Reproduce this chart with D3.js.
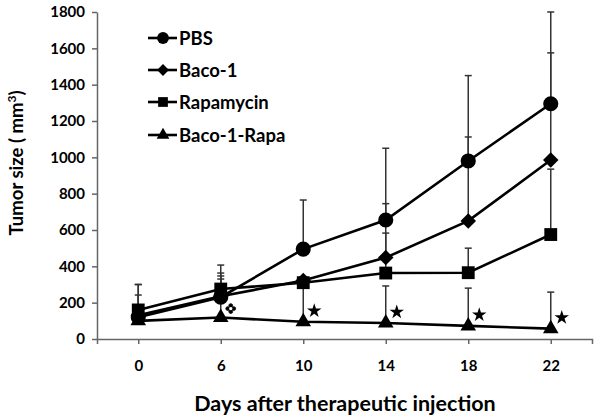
<!DOCTYPE html>
<html>
<head>
<meta charset="utf-8">
<script src="https://cdn.jsdelivr.net/npm/d3@7"></script>
<style>
  html, body { margin: 0; padding: 0; background: #fff; }
  svg { display: block; font-family: Lato, "Open Sans", sans-serif; }
</style>
</head>
<body>
<svg id="chart" width="600" height="419"></svg>
<script>
const days = ["0", "6", "10", "14", "18", "22"];
const yTicks = [0, 200, 400, 600, 800, 1000, 1200, 1400, 1600, 1800];

const seriesNames = ["PBS", "Baco-1", "Rapamycin", "Baco-1-Rapa"];
const pbs        = [120, 230, 495, 655, 980, 1295];
const baco1      = [130, 235, 322, 448, 650, 985];
const rapamycin  = [160, 275, 310, 363, 365, 575];
const bacoRapa   = [100, 118, 95, 88, 72, 57];

// upper error bar lengths
const pbsErr       = [180, 177, 270, 395, 470, 505];
const baco1Err     = [50, 128, 20, 297, 462, 590];
const rapamycinErr = [82, 72, 20, 220, 135, 360];
const bacoRapaErr  = [200, 212, 200, 204, 208, 201];

// significance marks
const starDays = ["10", "14", "18", "22"];
const cloverDays = ["6"];

// wide diamond symbol (square rotated 45deg)
const wideDiamond = {
  draw(ctx, size) {
    const r = Math.sqrt(size / 2);
    ctx.moveTo(0, -r); ctx.lineTo(r, 0); ctx.lineTo(0, r); ctx.lineTo(-r, 0); ctx.closePath();
  }
};

const symbols = [d3.symbolCircle, wideDiamond, d3.symbolSquare, d3.symbolTriangle];
const symSizes = [180, 120, 165, 105];
const legSizes = [110, 70, 95, 70];

const series = [
  { name: seriesNames[0], values: pbs, err: pbsErr },
  { name: seriesNames[1], values: baco1, err: baco1Err },
  { name: seriesNames[2], values: rapamycin, err: rapamycinErr },
  { name: seriesNames[3], values: bacoRapa, err: bacoRapaErr }
];

const svg = d3.select("#chart");
const x = d3.scalePoint().domain(days).range([97, 592]).padding(0.5);
const y = d3.scaleLinear().domain([0, 1800]).range([339, 12]);

// axes
const yAxis = d3.axisLeft(y).tickValues(yTicks).tickFormat(d3.format("d"))
  .tickSize(5).tickSizeOuter(0).tickPadding(7);
const gy = svg.append("g").attr("transform", "translate(97,0)").call(yAxis);
const xAxis = d3.axisBottom(x).tickSize(5).tickSizeOuter(5).tickPadding(16);
const gx = svg.append("g").attr("transform", "translate(0,339)").call(xAxis);
[gx, gy].forEach(g => {
  g.selectAll("path, line").attr("stroke", "#666").attr("stroke-width", 1.5);
  g.selectAll("text").attr("fill", "#000").attr("font-weight", "bold")
    .attr("font-size", 15).attr("font-family", "Lato, sans-serif");
});

// error bars
const eb = svg.append("g");
series.forEach(s => {
  days.forEach((d, i) => {
    const cx = x(d), y0 = y(s.values[i]), y1 = y(s.values[i] + s.err[i]);
    eb.append("line").attr("x1", cx).attr("x2", cx).attr("y1", y0).attr("y2", y1)
      .attr("stroke", "#333").attr("stroke-width", 1.5);
    eb.append("line").attr("x1", cx - 3.5).attr("x2", cx + 3.5).attr("y1", y1).attr("y2", y1)
      .attr("stroke", "#333").attr("stroke-width", 1.5);
  });
});

// lines
const line = d3.line().x((v, i) => x(days[i])).y(v => y(v));
series.forEach(s => {
  svg.append("path").attr("d", line(s.values)).attr("fill", "none")
    .attr("stroke", "#000").attr("stroke-width", 2.6);
});

// markers
series.forEach((s, k) => {
  svg.append("g").selectAll("path").data(s.values).join("path")
    .attr("transform", (v, i) => `translate(${x(days[i])},${y(v)})`)
    .attr("d", d3.symbol().type(symbols[k]).size(symSizes[k]))
    .attr("fill", "#000");
});

// stars
const starG = svg.append("g");
starDays.forEach(d => {
  const i = days.indexOf(d);
  starG.append("path")
    .attr("transform", `translate(${x(d) + 11},${y(bacoRapa[i]) - 11})`)
    .attr("d", d3.symbol().type(d3.symbolStar).size(65))
    .attr("fill", "#000");
});
// clover mark
cloverDays.forEach(d => {
  const i = days.indexOf(d);
  const cx = x(d) + 10, cy = y(bacoRapa[i]) - 9;
  [[0, -3], [-3, 0], [3, 0], [0, 3]].forEach(([dx, dy]) => {
    svg.append("circle").attr("cx", cx + dx).attr("cy", cy + dy).attr("r", 1.9)
      .attr("fill", "#000").attr("stroke", "#000").attr("stroke-width", 0.8);
  });
  svg.append("circle").attr("cx", cx).attr("cy", cy).attr("r", 1.6).attr("fill", "#fff");
});

// legend
const legY = [38, 70, 102, 135];
const leg = svg.append("g");
series.forEach((s, k) => {
  const ly = legY[k];
  leg.append("line").attr("x1", 148).attr("x2", 177).attr("y1", ly).attr("y2", ly)
    .attr("stroke", "#000").attr("stroke-width", 2.6);
  leg.append("path").attr("transform", `translate(163,${ly})`)
    .attr("d", d3.symbol().type(symbols[k]).size(legSizes[k])).attr("fill", "#000");
  leg.append("text").attr("x", 179).attr("y", ly).attr("dy", "0.36em")
    .attr("font-size", 18.5).attr("font-weight", "bold").text(s.name);
});

// axis titles
const yt = svg.append("text")
  .attr("transform", "translate(23,163) rotate(-90)")
  .attr("text-anchor", "middle").attr("font-size", 18.5).attr("font-weight", "bold");
yt.append("tspan").text("Tumor size ( mm");
yt.append("tspan").attr("dy", -7).attr("font-size", 12).text("3");
yt.append("tspan").attr("dy", 7).text(")");

svg.append("text").attr("x", 345).attr("y", 411).attr("text-anchor", "middle")
  .attr("font-size", 21.5).attr("font-weight", "bold").text("Days after therapeutic injection");
</script>
</body>
</html>
